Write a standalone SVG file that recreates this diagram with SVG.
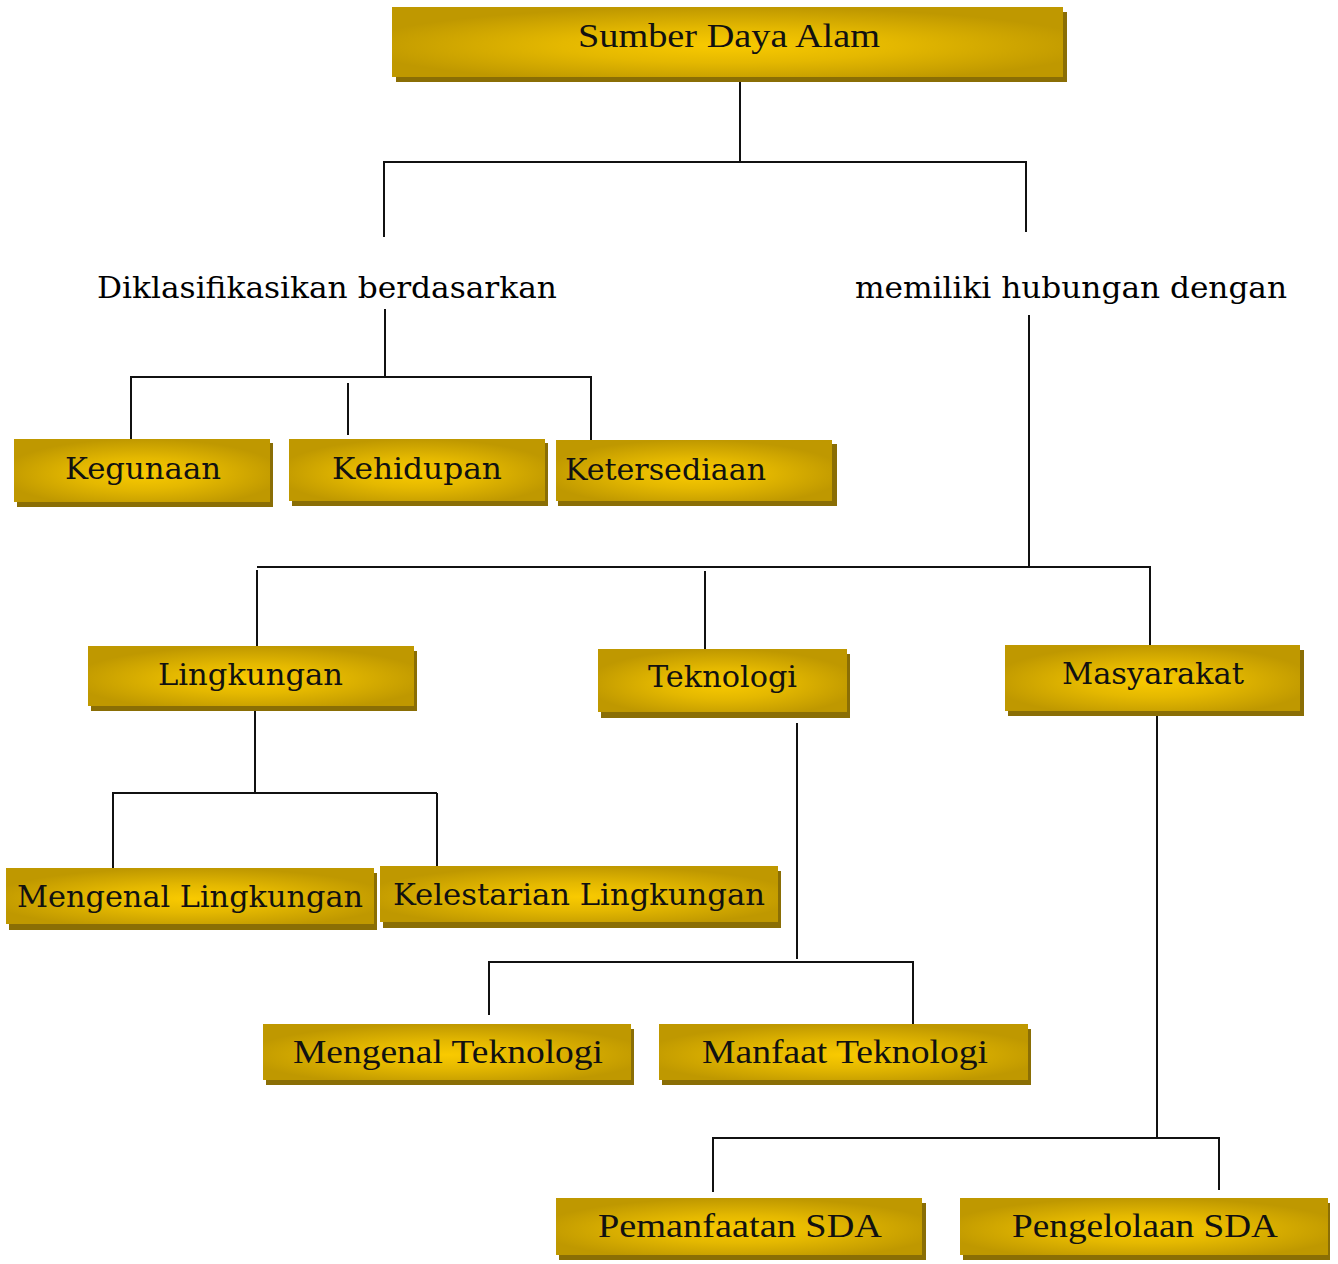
<svg xmlns="http://www.w3.org/2000/svg" width="1338" height="1264" viewBox="0 0 1338 1264">
<defs>
<radialGradient id="gold" cx="0.5" cy="0.55" r="0.55">
<stop offset="0" stop-color="#f9ca00"/>
<stop offset="0.45" stop-color="#e4b800"/>
<stop offset="1" stop-color="#bf9800"/>
</radialGradient>
</defs>
<style>
.sh{fill:#8a6e05}
.bx{fill:url(#gold)}
.bk{font-family:"DejaVu Serif","Liberation Serif",serif;font-size:30px;fill:#111}
.tm{font-family:"Liberation Serif","DejaVu Serif",serif;font-size:33px;fill:#111}
.lb{font-family:"DejaVu Serif","Liberation Serif",serif;font-size:30px;fill:#000}
.cn line{stroke:#111;stroke-width:2}
</style>
<rect width="1338" height="1264" fill="#ffffff"/>
<g id="connectors" class="cn">
<line x1="740" y1="78" x2="740" y2="162"/>
<line x1="383" y1="162" x2="1027" y2="162"/>
<line x1="384" y1="162" x2="384" y2="237"/>
<line x1="1026" y1="162" x2="1026" y2="232"/>
<line x1="385" y1="309" x2="385" y2="377"/>
<line x1="130" y1="377" x2="592" y2="377"/>
<line x1="131" y1="377" x2="131" y2="440"/>
<line x1="348" y1="383" x2="348" y2="435"/>
<line x1="591" y1="377" x2="591" y2="442"/>
<line x1="1029" y1="315" x2="1029" y2="567"/>
<line x1="257" y1="567" x2="1151" y2="567"/>
<line x1="257" y1="570" x2="257" y2="646"/>
<line x1="705" y1="571" x2="705" y2="650"/>
<line x1="1150" y1="567" x2="1150" y2="648"/>
<line x1="255" y1="708" x2="255" y2="793"/>
<line x1="112" y1="793" x2="437" y2="793"/>
<line x1="113" y1="793" x2="113" y2="868"/>
<line x1="437" y1="793" x2="437" y2="866"/>
<line x1="797" y1="723" x2="797" y2="959"/>
<line x1="488" y1="962" x2="914" y2="962"/>
<line x1="489" y1="962" x2="489" y2="1015"/>
<line x1="913" y1="962" x2="913" y2="1024"/>
<line x1="1157" y1="716" x2="1157" y2="1138"/>
<line x1="712" y1="1138" x2="1220" y2="1138"/>
<line x1="713" y1="1138" x2="713" y2="1192"/>
<line x1="1219" y1="1138" x2="1219" y2="1190"/>
</g>
<g id="n-sda"><rect class="sh" x="396" y="12" width="671" height="70"/><rect class="bx" x="392" y="7" width="671" height="70"/><text class="tm" x="578" y="47" textLength="302" lengthAdjust="spacingAndGlyphs">Sumber Daya Alam</text></g>
<g id="l-klas"><text class="lb" x="97" y="298" textLength="460" lengthAdjust="spacingAndGlyphs">Diklasifikasikan berdasarkan</text></g>
<g id="l-hub"><text class="lb" x="855" y="298" textLength="432" lengthAdjust="spacingAndGlyphs">memiliki hubungan dengan</text></g>
<g id="n-kegunaan"><rect class="sh" x="17" y="443" width="256" height="64"/><rect class="bx" x="14" y="439" width="256" height="63"/><text class="bk" x="65" y="479" textLength="156" lengthAdjust="spacingAndGlyphs">Kegunaan</text></g>
<g id="n-kehidupan"><rect class="sh" x="292" y="443" width="256" height="63"/><rect class="bx" x="289" y="439" width="256" height="62"/><text class="bk" x="332" y="479" textLength="170" lengthAdjust="spacingAndGlyphs">Kehidupan</text></g>
<g id="n-ketersediaan"><rect class="sh" x="558" y="444" width="279" height="62"/><rect class="bx" x="556" y="440" width="276" height="61"/><text class="bk" x="565" y="480" textLength="201" lengthAdjust="spacingAndGlyphs">Ketersediaan</text></g>
<g id="n-lingkungan"><rect class="sh" x="91" y="651" width="326" height="60"/><rect class="bx" x="88" y="646" width="326" height="60"/><text class="bk" x="158" y="685" textLength="185" lengthAdjust="spacingAndGlyphs">Lingkungan</text></g>
<g id="n-teknologi"><rect class="sh" x="601" y="654" width="249" height="64"/><rect class="bx" x="598" y="649" width="249" height="63"/><text class="bk" x="648" y="687" textLength="149" lengthAdjust="spacingAndGlyphs">Teknologi</text></g>
<g id="n-masyarakat"><rect class="sh" x="1008" y="650" width="296" height="66"/><rect class="bx" x="1005" y="645" width="295" height="66"/><text class="bk" x="1062" y="684" textLength="182" lengthAdjust="spacingAndGlyphs">Masyarakat</text></g>
<g id="n-menling"><rect class="sh" x="9" y="873" width="368" height="57"/><rect class="bx" x="6" y="868" width="368" height="56"/><text class="bk" x="17" y="907" textLength="346" lengthAdjust="spacingAndGlyphs">Mengenal Lingkungan</text></g>
<g id="n-lestari"><rect class="sh" x="383" y="871" width="398" height="57"/><rect class="bx" x="380" y="866" width="398" height="56"/><text class="bk" x="393" y="905" textLength="372" lengthAdjust="spacingAndGlyphs">Kelestarian Lingkungan</text></g>
<g id="n-mentek"><rect class="sh" x="266" y="1029" width="368" height="56"/><rect class="bx" x="263" y="1024" width="368" height="56"/><text class="tm" x="293" y="1063" textLength="310" lengthAdjust="spacingAndGlyphs">Mengenal Teknologi</text></g>
<g id="n-manfaat"><rect class="sh" x="662" y="1029" width="369" height="56"/><rect class="bx" x="659" y="1024" width="369" height="56"/><text class="tm" x="702" y="1063" textLength="286" lengthAdjust="spacingAndGlyphs">Manfaat Teknologi</text></g>
<g id="n-pemanfaatan"><rect class="sh" x="559" y="1203" width="367" height="57"/><rect class="bx" x="556" y="1198" width="366" height="57"/><text class="tm" x="598" y="1237" textLength="284" lengthAdjust="spacingAndGlyphs">Pemanfaatan SDA</text></g>
<g id="n-pengelolaan"><rect class="sh" x="963" y="1203" width="367" height="57"/><rect class="bx" x="960" y="1198" width="368" height="57"/><text class="tm" x="1012" y="1237" textLength="266" lengthAdjust="spacingAndGlyphs">Pengelolaan SDA</text></g>
</svg>
